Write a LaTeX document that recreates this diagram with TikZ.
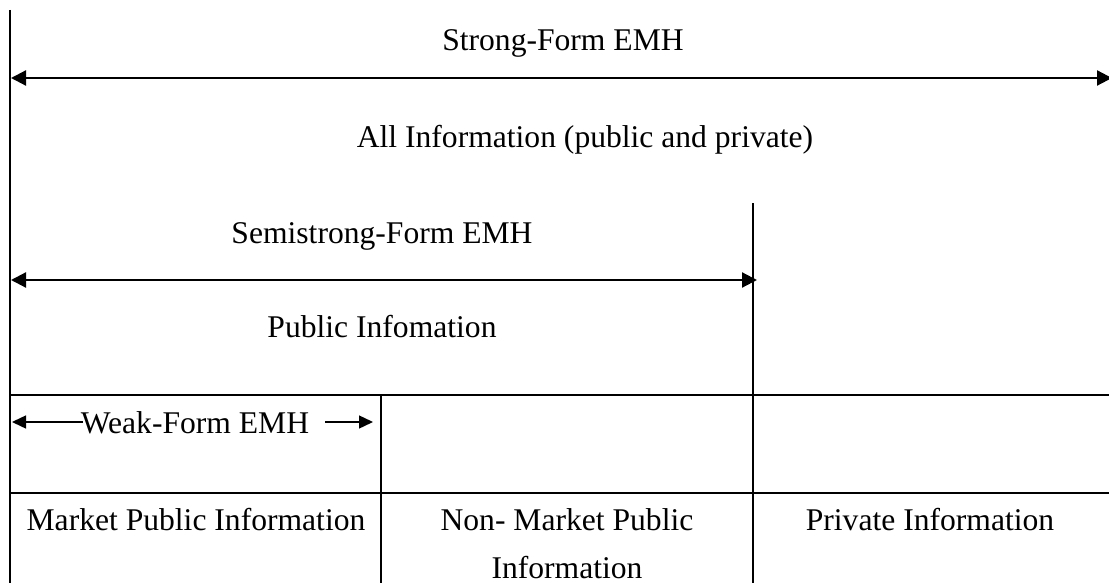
\documentclass[tikz,border=0pt]{standalone}
\usepackage{fontspec}
\setmainfont{Liberation Serif}
\usetikzlibrary{arrows.meta}
\begin{document}
\begin{tikzpicture}[x=0.5pt,y=-0.5pt,
  rule/.style={line width=1.1pt},
  span/.style={line width=1.1pt,
    {Triangle[length=7.5pt,width=7.5pt]}-{Triangle[length=7.5pt,width=7.5pt]}},
  weak/.style={line width=0.7pt},
  weaktip/.style={-{Triangle[length=7pt,width=6.5pt]}},
  lbl/.style={font=\fontsize{15.8}{19}\selectfont, inner sep=0pt, anchor=base},
]
\useasboundingbox (0,0) rectangle (1109,583);

% frame lines
\coordinate (lt) at (10,10);
\coordinate (lb) at (10,583);
\draw[rule] (lt) -- (lb);
\coordinate (mt) at (753,203);
\coordinate (mb) at (753,583);
\draw[rule] (mt) -- (mb);
\coordinate (h1l) at (10,395);
\coordinate (h1r) at (1109,395);
\draw[rule] (h1l) -- (h1r);
\coordinate (h2l) at (10,493);
\coordinate (h2r) at (1109,493);
\draw[rule] (h2l) -- (h2r);
\coordinate (wt) at (381,395);
\coordinate (wb) at (381,583);
\draw[rule] (wt) -- (wb);

% strong form
\node[lbl] (strong) at (563,51) {Strong-Form EMH};
\coordinate (sl) at (11,78);
\coordinate (sr) at (1112,78);
\draw[span] (sl) -- (sr);
\node[lbl] (all) at (585,148) {All Information (public and private)};

% semistrong form
\node[lbl] (semi) at (382,243) {Semistrong-Form EMH};
\coordinate (ml) at (11,280);
\coordinate (mr) at (757,280);
\draw[span] (ml) -- (mr);
\node[lbl] (pub) at (382,337) {Public Infomation};

% weak form
\node[lbl] (weakl) at (195,433) {Weak-Form EMH};
\coordinate (wl) at (12,422);
\coordinate (wla) at (83,422);
\coordinate (wra) at (325,422);
\coordinate (wrb) at (373,422);
\draw[weak,weaktip] (wla) -- (wl);
\draw[weak,weaktip] (wra) -- (wrb);

% information classes
\node[lbl] (mkt) at (196,530) {Market Public Information};
\node[lbl] (nmkt) at (567,530) {Non- Market Public};
\node[lbl] (nmkt2) at (567,578) {Information};
\node[lbl] (priv) at (930,530) {Private Information};
\end{tikzpicture}
\end{document}
